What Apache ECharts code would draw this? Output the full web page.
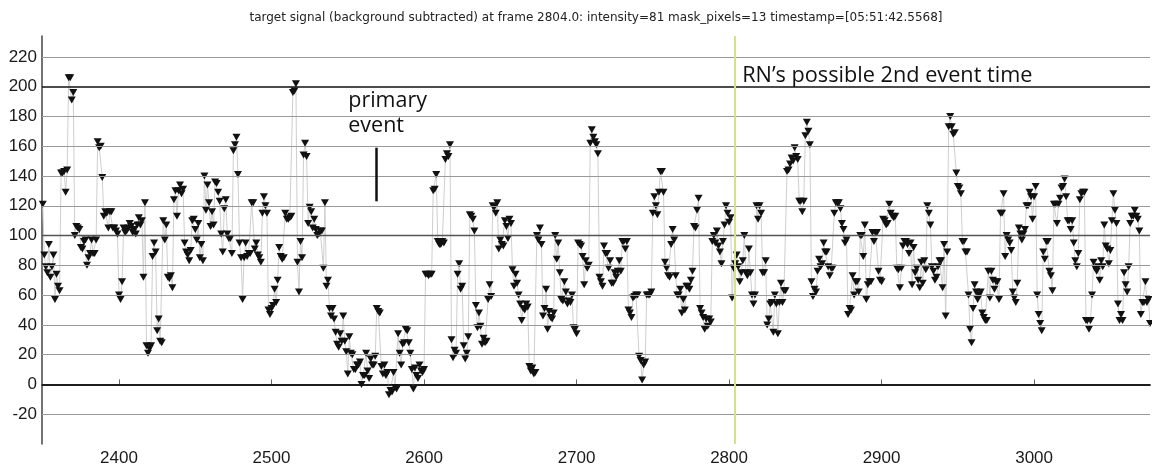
<!DOCTYPE html>
<html><head><meta charset="utf-8">
<script src="https://cdn.jsdelivr.net/npm/echarts@6/dist/echarts.min.js"></script>
<style>html,body{margin:0;padding:0;background:#fff}#c{width:1152px;height:468px}</style>
</head><body><div id="c"></div>
<script>
// frame of first value; one value per frame
const startFrame = 2350;
// frames 2350-2470
const seg1 = [121,87,79,75,94,72,79,87,57,74, 66,63,142,142,143,129,144,206,206,191, 196,100,106,105,104,92,91,96,97,80, 85,88,97,88,88,97,163,159,160,139, 113,116,115,105,116,116,105,105,103,101, 60,57,69,105,102,103,105,108,106,102, 104,101,107,112,107,110,72,122,26,21, 24,26,86,95,89,36,44,29,28,110, 97,107,72,71,73,65,124,130,113,130, 134,128,131,95,89,87,83,90,110,111, 104,97,108,85,94,83,140,117,134,122, 106,116,107,136,135,129,123,101,89,118, 124];
// frames 2471-2590
const seg2 = [101,98,98,88,157,161,166,141,95,85, 57,85,95,86,88,88,122,122,91,95, 87,85,82,115,126,120,115,50,47,51, 53,64,55,70,92,86,84,85,115,111, 111,112,113,196,197,202,82,62,96,85, 154,162,153,108,119,116,105,111,104,100, 101,103,103,78,122,66,70,51,46,51, 44,35,27,25,34,29,46,29,22,7, 32,21,20,10,10,13,13,15,0,6, 6,21,9,4,17,13,13,19,51,49, 48,12,7,13,6,8,-7,-4,-5,8, -2,-3,34,21,13,27,28,37,36,28];
// frames 2591-2710
const seg3 = [21,10,-3,11,6,4,13,9,8,10, 74,74,73,74,74,130,131,141,96,94, 94,96,95,151,155,153,161,30,18,23, 21,74,81,64,66,26,17,21,32,114, 113,111,103,53,38,48,39,27,31,28, 29,57,67,59,120,119,115,122,91,97, 94,93,110,106,98,111,108,77,66,74, 68,60,54,43,51,50,54,52,12,9, 11,7,8,100,97,105,94,46,51,64, 37,49,45,44,48,100,84,95,75,57, 56,69,62,54,56,55,60,38,37,34, 95,94,93,86,67,83,78,80,162,171];
// frames 2711-2830
const seg4 = [166,163,161,155,72,69,66,93,88,88, 78,83,68,68,75,72,76,83,76,96, 96,91,96,50,48,45,58,59,60,60, 19,16,3,13,15,60,60,60,62,115, 126,120,114,129,143,143,129,82,78,73, 72,94,104,97,73,60,60,64,48,57, 50,66,66,64,70,76,106,105,117,125, 51,48,45,37,44,39,44,42,96,100, 95,103,93,89,81,96,107,120,115,109, 112,58,78,81,87,79,69,75,83,100, 75,73,91,75,60,54,60,120,111,120, 115,75,75,83,40,44,54,55,35,60];
// frames 2831-2950
const seg5 = [54,34,55,68,55,63,63,143,144,148, 152,150,159,153,151,123,123,116,123,167, 176,170,161,69,59,64,62,76,84,79, 81,95,89,89,79,73,78,78,115,122, 122,122,118,108,104,95,97,47,51,50, 73,60,69,69,62,100,100,86,107,57, 67,69,69,102,96,102,102,76,70,69, 111,110,107,108,121,115,113,112,113,78, 77,65,78,93,96,96,94,88,95,67, 92,75,78,70,65,82,68,83,77,120, 115,107,79,76,70,72,79,83,83,65, 94,46,89,173,180,173,168,169,142,133];
// frames 2951-3076
const seg6 = [132,128,96,96,89,89,60,37,28,51, 67,62,57,60,62,48,45,43,43,76, 58,76,70,64,69,69,57,115,115,128, 86,100,97,95,90,62,58,55,68,105, 101,97,101,104,120,120,129,126,111,126, 133,60,47,41,36,89,84,96,96,76, 73,63,121,121,108,121,125,132,133,138, 126,110,110,104,110,95,83,79,88,124, 128,129,129,43,43,37,43,60,82,78, 76,79,70,83,79,107,93,91,81,90, 110,128,117,108,54,43,47,43,75,67, 62,79,108,113,113,117,113,111,103,47, 55,55,69,55,57,41];

const xTickLabels = [2400, 2500, 2600, 2700, 2800, 2900, 3000];
const yTickLabels = [-20, 0, 20, 40, 60, 80, 100, 120, 140, 160, 180, 200, 220];
const darkLines = [0, 200];
const midLines = [100];
const xRange = [2349.5, 3076];
const yRange = [-40, 234];
const eventFrame = 2804;
const titleText = 'target signal (background subtracted) at frame 2804.0: intensity=81 mask_pixels=13 timestamp=[05:51:42.5568]';
const eventLabel = 'RN\u2019s possible 2nd event time';
const primaryLabel = ['primary', 'event'];
const primaryMark = {frame: 2568.7, from: 123, to: 159, textFrame: 2550.3, textTop: 199};

const values = seg1.concat(seg2, seg3, seg4, seg5, seg6);
const points = values.map((v, i) => [startFrame + i, v]);

const gridLines = yTickLabels.map(v => {
  let color = '#9a9a9a', width = 1;
  if (darkLines.includes(v)) { color = '#111'; width = 1.6; }
  else if (midLines.includes(v)) { color = '#555'; width = 1.4; }
  return [ { coord: [xRange[0], v], lineStyle: { color, width, type: 'solid' } }, { coord: [xRange[1], v] } ];
});

const chart = echarts.init(document.getElementById('c'), null, {renderer: 'canvas'});
const font = '"Liberation Sans", Arial, sans-serif';
const annFont = '"Open Sans", sans-serif';
chart.setOption({
  animation: false,
  backgroundColor: '#fff',
  grid: { left: 42, right: 2, top: 36, bottom: 24, containLabel: false },
  xAxis: {
    type: 'value', min: xRange[0], max: xRange[1],
    axisLine: { show: true, lineStyle: { color: '#444', width: 2 } },
    axisTick: { show: true, inside: true, length: 5, lineStyle: { color: '#666', width: 1 }, customValues: xTickLabels },
    axisLabel: { customValues: xTickLabels, formatter: v => String(v), color: '#1a1a1a', fontSize: 17, fontFamily: font, margin: 6 },
    splitLine: { show: false }
  },
  yAxis: {
    type: 'value', min: yRange[0], max: yRange[1],
    axisLine: { show: true, onZero: false, lineStyle: { color: '#444', width: 1.5 } },
    axisTick: { show: false },
    axisLabel: { customValues: yTickLabels, formatter: v => String(v), color: '#1a1a1a', fontSize: 17, fontFamily: font, margin: 5 },
    splitLine: { show: false }
  },
  series: [
    {
      type: 'line', data: [], z: 1, silent: true,
      markLine: { silent: true, symbol: 'none', label: { show: false }, animation: false, data: gridLines }
    },
    {
      type: 'line', data: [], z: 2, silent: true,
      markLine: { silent: true, symbol: 'none', label: { show: false }, animation: false,
        data: [
          [ { coord: [eventFrame, yRange[0]], lineStyle: { color: '#d6e08e', width: 2, type: 'solid' } },
            { coord: [eventFrame, yRange[1]] } ],
          [ { coord: [primaryMark.frame, primaryMark.from], lineStyle: { color: '#111', width: 2.5, type: 'solid' } },
            { coord: [primaryMark.frame, primaryMark.to] } ]
        ] }
    },
    {
      type: 'line', data: points, z: 3,
      showAllSymbol: true, sampling: null,
      symbol: 'triangle', symbolRotate: 180, symbolSize: [8, 7],
      itemStyle: { color: '#111' },
      lineStyle: { color: '#cfcfcf', width: 1 }
    }
  ]
});

const pEvent = chart.convertToPixel({gridIndex: 0}, [eventFrame, 207]);
const pPrim = chart.convertToPixel({gridIndex: 0}, [primaryMark.textFrame, primaryMark.textTop]);
chart.setOption({
  graphic: [
    { type: 'text', x: 596, y: 18, style: { text: titleText, fill: '#222', font: '12px "DejaVu Sans", sans-serif', textAlign: 'center', textVerticalAlign: 'middle' } },
    { type: 'text', x: pEvent[0] + 7, y: pEvent[1], style: { text: eventLabel, fill: '#111', font: '21.7px ' + annFont, textAlign: 'left', textVerticalAlign: 'middle' } },
    { type: 'text', x: pPrim[0], y: pPrim[1], style: { text: primaryLabel.join('\n'), fill: '#111', font: '21.5px ' + annFont, lineHeight: 25, textAlign: 'left', textVerticalAlign: 'top' } }
  ]
});
</script></body></html>
